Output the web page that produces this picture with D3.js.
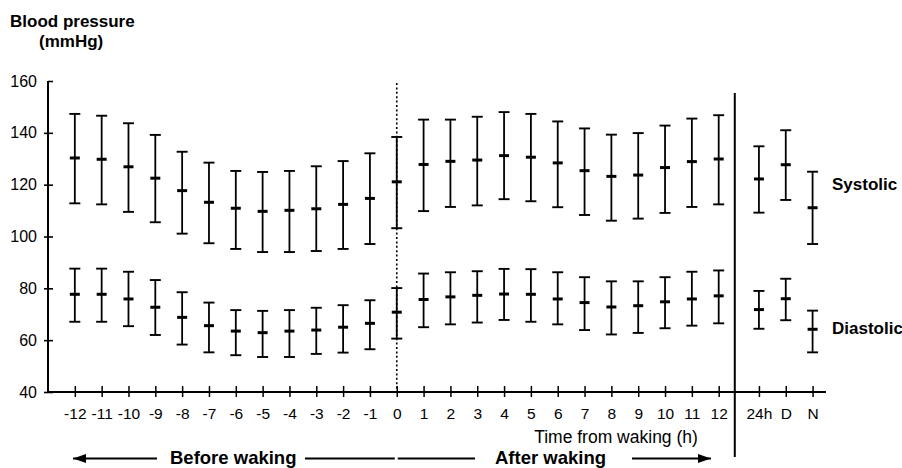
<!DOCTYPE html>
<html>
<head>
<meta charset="utf-8">
<script src="https://cdn.jsdelivr.net/npm/d3@7"></script>
<style>
  html, body { margin: 0; padding: 0; background: #fff; }
  svg { display: block; font-family: "Liberation Sans", Arial, Helvetica, sans-serif; }
</style>
</head>
<body>
<svg id="chart" width="902" height="468"></svg>
<script>
// Hours relative to waking, and the summary periods drawn after the separator
const hours = [-12,-11,-10,-9,-8,-7,-6,-5,-4,-3,-2,-1,0,1,2,3,4,5,6,7,8,9,10,11,12];
const summaryLabels = ["24h", "D", "N"];
const summaryPos = [13.5, 14.5, 15.5];
const yTicks = [40, 60, 80, 100, 120, 140, 160];

// Systolic pressure per hour: mean and error-bar limits (mmHg)
const sysMean = [130.3,129.8,126.9,122.5,117.7,113.2,110.9,109.7,110.1,110.7,112.4,114.7,121.1,127.8,129.0,129.5,131.2,130.6,128.4,125.4,123.2,123.7,126.6,128.9,129.9];
const sysHigh = [147.3,146.6,143.7,139.2,132.7,128.5,125.3,124.9,125.3,127.1,129.1,132.1,138.4,145.1,145.1,146.2,148.0,147.3,144.4,141.7,139.3,139.9,142.8,145.5,146.8];
const sysLow  = [112.8,112.4,109.5,105.5,101.1,97.4,95.2,94.0,94.0,94.4,95.2,97.1,103.2,109.8,111.4,112.0,114.4,113.6,111.3,108.3,106.1,106.9,109.1,111.4,112.4];

// Diastolic pressure per hour
const diaMean = [77.7,77.7,75.9,72.7,68.8,65.6,63.5,62.9,63.5,63.9,65.0,66.5,70.8,75.7,76.7,77.3,77.8,77.7,75.9,74.5,72.8,73.3,74.8,75.9,77.1];
const diaHigh = [87.6,87.6,86.4,83.2,78.5,74.5,71.6,71.3,71.6,72.5,73.5,75.4,80.1,85.7,86.2,86.6,87.5,87.4,86.2,84.3,82.7,82.7,84.3,86.4,86.9];
const diaLow  = [67.1,67.1,65.4,62.0,58.3,55.3,54.2,53.5,53.5,54.7,55.2,56.5,60.6,65.0,66.1,66.8,67.8,67.1,66.1,63.9,62.2,62.8,64.6,65.6,66.5];

// 24-hour, daytime and night-time summaries
const sumSysMean = [122.2, 127.7, 111.1];
const sumSysHigh = [134.8, 141.0, 125.0];
const sumSysLow  = [109.2, 114.1, 97.1];
const sumDiaMean = [71.8, 76.0, 64.2];
const sumDiaHigh = [79.0, 83.7, 71.4];
const sumDiaLow  = [64.4, 67.7, 55.3];

const svg = d3.select("#chart");
const x = d3.scaleLinear().domain([-13, 16]).range([48, 826]);
const y = d3.scaleLinear().domain([40, 160]).range([392, 81]);
const separatorPos = 12.6;

// Assemble every error bar as a record
const bars = [];
hours.forEach((h, i) => {
  bars.push({ pos: h, mean: sysMean[i], lo: sysLow[i], hi: sysHigh[i] });
  bars.push({ pos: h, mean: diaMean[i], lo: diaLow[i], hi: diaHigh[i] });
});
summaryPos.forEach((p, i) => {
  bars.push({ pos: p, mean: sumSysMean[i], lo: sumSysLow[i], hi: sumSysHigh[i] });
  bars.push({ pos: p, mean: sumDiaMean[i], lo: sumDiaLow[i], hi: sumDiaHigh[i] });
});

// Y axis with ticks crossing the line
const yAxisG = svg.append("g")
  .attr("transform", `translate(${x(-13)},0)`)
  .call(d3.axisLeft(y).tickValues(yTicks).tickSize(4).tickPadding(7));
yAxisG.select(".domain").remove();
yAxisG.selectAll(".tick line")
  .attr("x2", d => d === 160 ? 0 : -4).attr("x1", 5)
  .attr("stroke", "#000").attr("stroke-width", 1.6);
yAxisG.selectAll(".tick text").attr("font-size", 16).attr("fill", "#000");
svg.append("line")
  .attr("x1", x(-13)).attr("x2", x(-13))
  .attr("y1", y(160)).attr("y2", y(40))
  .attr("stroke", "#000").attr("stroke-width", 2);

// X axis: hour ticks and summary ticks
const allPos = hours.concat(summaryPos);
const allLabels = hours.map(String).concat(summaryLabels);
const xAxisG = svg.append("g")
  .attr("transform", `translate(0,${y(40)})`)
  .call(d3.axisBottom(x).tickValues(allPos)
    .tickFormat((d, i) => allLabels[i]).tickSize(5).tickPadding(11));
xAxisG.select(".domain").remove();
xAxisG.selectAll(".tick line").attr("y1", -6).attr("y2", 5).attr("stroke", "#000").attr("stroke-width", 1.5);
xAxisG.selectAll(".tick text").attr("font-size", 15.5).attr("fill", "#000");
svg.append("line")
  .attr("x1", x(-13)).attr("x2", x(16))
  .attr("y1", y(40)).attr("y2", y(40))
  .attr("stroke", "#000").attr("stroke-width", 2);

// Waking moment (dotted) and the separator before the summaries
svg.append("line")
  .attr("x1", x(0)).attr("x2", x(0))
  .attr("y1", 83).attr("y2", y(40))
  .attr("stroke", "#000").attr("stroke-width", 1.6)
  .attr("stroke-dasharray", "2,2.4");
svg.append("line")
  .attr("x1", x(separatorPos)).attr("x2", x(separatorPos))
  .attr("y1", 93).attr("y2", 457)
  .attr("stroke", "#000").attr("stroke-width", 2);

// Error bars
const g = svg.append("g").attr("stroke", "#000");
const capW = 5.5, meanW = 5;
g.selectAll("line.stem").data(bars).join("line")
  .attr("x1", d => x(d.pos)).attr("x2", d => x(d.pos))
  .attr("y1", d => y(d.hi)).attr("y2", d => y(d.lo))
  .attr("stroke-width", 1.8);
g.selectAll("line.capHi").data(bars).join("line")
  .attr("x1", d => x(d.pos) - capW).attr("x2", d => x(d.pos) + capW)
  .attr("y1", d => y(d.hi)).attr("y2", d => y(d.hi))
  .attr("stroke-width", 1.9);
g.selectAll("line.capLo").data(bars).join("line")
  .attr("x1", d => x(d.pos) - capW).attr("x2", d => x(d.pos) + capW)
  .attr("y1", d => y(d.lo)).attr("y2", d => y(d.lo))
  .attr("stroke-width", 1.9);
g.selectAll("line.mean").data(bars).join("line")
  .attr("x1", d => x(d.pos) - meanW).attr("x2", d => x(d.pos) + meanW)
  .attr("y1", d => y(d.mean)).attr("y2", d => y(d.mean))
  .attr("stroke-width", 3);

// Axis title
svg.append("text").attr("x", 10).attr("y", 27)
  .attr("font-size", 17).attr("font-weight", "bold").text("Blood pressure");
svg.append("text").attr("x", 39).attr("y", 47)
  .attr("font-size", 17).attr("font-weight", "bold").text("(mmHg)");

// Series labels
svg.append("text").attr("x", 832).attr("y", 190)
  .attr("font-size", 17).attr("font-weight", "bold").text("Systolic");
svg.append("text").attr("x", 832).attr("y", 334)
  .attr("font-size", 17).attr("font-weight", "bold").text("Diastolic");

// X axis title
svg.append("text").attr("x", 616).attr("y", 443).attr("text-anchor", "middle")
  .attr("font-size", 17.5).text("Time from waking (h)");

// Before / after waking annotation with arrows
const arrowY = 458.5;
const ann = svg.append("g");
function arrowLine(x1, x2, head) {
  ann.append("line").attr("x1", x1).attr("x2", x2).attr("y1", arrowY).attr("y2", arrowY)
    .attr("stroke", "#000").attr("stroke-width", 2);
  if (head) {
    const dir = x2 > x1 ? 1 : -1;
    ann.append("path")
      .attr("d", `M${x2},${arrowY} L${x2 - dir * 13},${arrowY - 4.5} L${x2 - dir * 13},${arrowY + 4.5} Z`)
      .attr("fill", "#000");
  }
}
arrowLine(157, 73, true);
arrowLine(305, x(0) - 2, false);
arrowLine(x(0) + 1, 475, false);
arrowLine(632, 711, true);
ann.append("text").attr("x", 170).attr("y", 464)
  .attr("font-size", 18.5).attr("font-weight", "bold").text("Before waking");
ann.append("text").attr("x", 495).attr("y", 464)
  .attr("font-size", 18.5).attr("font-weight", "bold").text("After waking");
</script>
</body>
</html>
